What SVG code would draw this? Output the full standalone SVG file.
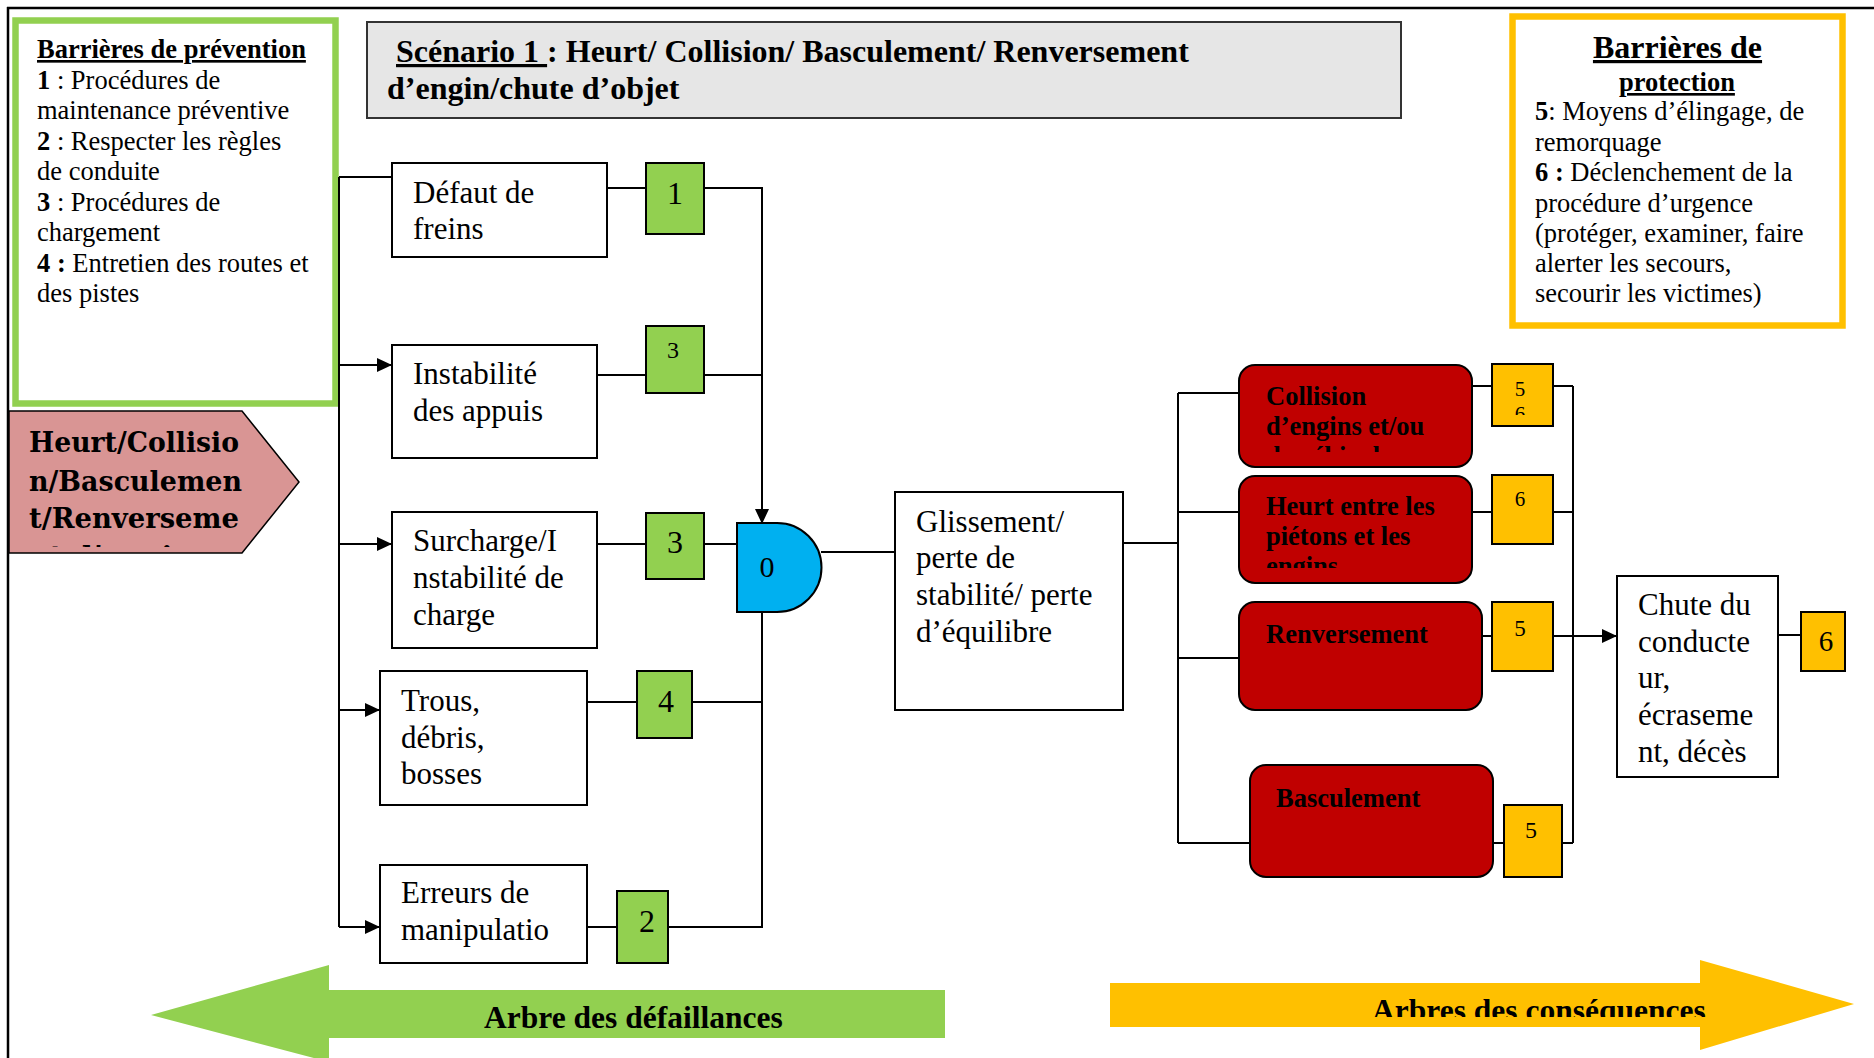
<svg xmlns="http://www.w3.org/2000/svg" width="1874" height="1058" viewBox="0 0 1874 1058">
  <style>
    .t { font-family: "Liberation Serif", "Times New Roman", serif; fill: #000; }
    .b { font-weight: bold; }
    .u { text-decoration: underline; }
    .mid { text-anchor: middle; }
    .box { fill: #fff; stroke: #000; stroke-width: 2; }
    .gnum { fill: #92D050; stroke: #000; stroke-width: 2; }
    .ynum { fill: #FFC000; stroke: #000; stroke-width: 2; }
    .red { fill: #C00000; stroke: #000; stroke-width: 2; }
    .wire { fill: none; stroke: #000; stroke-width: 2; }
    .frame { fill: none; stroke: #000; stroke-width: 2.5; }
    .lbl { font-size: 31px; }
    .rlbl { font-size: 26.5px; font-weight: bold; }
    .leg { font-size: 26.5px; }
  </style>
  <defs>
    <marker id="arr" viewBox="0 0 15 14" refX="15" refY="7" markerWidth="15" markerHeight="14" markerUnits="userSpaceOnUse" orient="auto">
      <path d="M0,0 L15,7 L0,14 z" fill="#000"/>
    </marker>
    <clipPath id="clipEvent"><rect x="10" y="410" width="290" height="137"/></clipPath>
    <clipPath id="clipCollision"><rect x="1239" y="365" width="233" height="87"/></clipPath>
    <clipPath id="clipHeurt"><rect x="1239" y="476" width="233" height="92"/></clipPath>
    <clipPath id="clipY56"><rect x="1492" y="364" width="61" height="51"/></clipPath>
    <clipPath id="clipCons"><rect x="1100" y="960" width="760" height="57"/></clipPath>
  </defs>

  <!-- page frame -->
  <path class="frame" d="M7,8 H1874 M8,7 V1058"/>

  <!-- prevention barriers legend -->
  <g id="prevention">
    <rect x="15.5" y="20.5" width="320" height="383" fill="#fff" stroke="#92D050" stroke-width="6.5"/>
    <text class="t leg b u" x="37" y="58">Barrières de prévention</text>
    <text class="t leg" x="37" y="88.5"><tspan class="b">1</tspan> : Procédures de</text>
    <text class="t leg" x="37" y="119">maintenance préventive</text>
    <text class="t leg" x="37" y="149.5"><tspan class="b">2</tspan> : Respecter les règles</text>
    <text class="t leg" x="37" y="180">de conduite</text>
    <text class="t leg" x="37" y="210.5"><tspan class="b">3</tspan> : Procédures de</text>
    <text class="t leg" x="37" y="241">chargement</text>
    <text class="t leg" x="37" y="271.5"><tspan class="b">4 :</tspan> Entretien des routes et</text>
    <text class="t leg" x="37" y="302">des pistes</text>
  </g>

  <!-- scenario title -->
  <g id="title">
    <rect x="367" y="22" width="1034" height="96" fill="#E6E6E6" stroke="#333" stroke-width="2"/>
    <text class="t b" font-size="32" x="396" y="62"><tspan class="u">Scénario 1 </tspan>: Heurt/ Collision/ Basculement/ Renversement</text>
    <text class="t b" font-size="32" x="387" y="99">d’engin/chute d’objet</text>
  </g>

  <!-- protection barriers legend -->
  <g id="protection">
    <rect x="1512.5" y="16.5" width="330" height="309" fill="#fff" stroke="#FFC000" stroke-width="6.5"/>
    <text class="t b u mid" font-size="32" x="1677.5" y="58">Barrières de</text>
    <text class="t b u mid" font-size="26.5" x="1677" y="91">protection</text>
    <text class="t leg" x="1535" y="120"><tspan class="b">5</tspan>: Moyens d’élingage, de</text>
    <text class="t leg" x="1535" y="150.5">remorquage</text>
    <text class="t leg" x="1535" y="181"><tspan class="b">6 :</tspan> Déclenchement de la</text>
    <text class="t leg" x="1535" y="211.5">procédure d’urgence</text>
    <text class="t leg" x="1535" y="242">(protéger, examiner, faire</text>
    <text class="t leg" x="1535" y="272">alerter les secours,</text>
    <text class="t leg" x="1535" y="302">secourir les victimes)</text>
  </g>

  <!-- top event pentagon -->
  <g id="event">
    <path d="M9,411 H242 L299,482 L242,553 H9 Z" fill="#D99594" stroke="#000" stroke-width="1.5"/>
    <g clip-path="url(#clipEvent)" font-family="'DejaVu Serif', serif" font-weight="bold" font-size="28.5" fill="#000">
      <text x="29" y="452" textLength="210" lengthAdjust="spacingAndGlyphs">Heurt/Collisio</text>
      <text x="29" y="491" textLength="213" lengthAdjust="spacingAndGlyphs">n/Basculemen</text>
      <text x="29" y="528" textLength="210" lengthAdjust="spacingAndGlyphs">t/Renverseme</text>
      <text x="29" y="566">nt d’engin</text>
    </g>
  </g>

  <!-- connectors -->
  <g id="connectors" class="wire">
    <path d="M339,177 V927"/>
    <path d="M339,177 H392"/>
    <path d="M339,365 H392" marker-end="url(#arr)"/>
    <path d="M339,544 H392" marker-end="url(#arr)"/>
    <path d="M339,710 H380" marker-end="url(#arr)"/>
    <path d="M339,927 H380" marker-end="url(#arr)"/>
    <path d="M607,188 H646"/>
    <path d="M704,188 H762 V524" marker-end="url(#arr)"/>
    <path d="M597,375 H646 M704,375 H762"/>
    <path d="M597,544 H646 M704,544 H737"/>
    <path d="M587,702 H637 M692,702 H762"/>
    <path d="M587,927 H617 M668,927 H762 V612"/>
    <path d="M821,552 H895"/>
    <path d="M1123,543 H1178"/>
    <path d="M1178,393 V843"/>
    <path d="M1178,393 H1239 M1178,512 H1239 M1178,658 H1239 M1178,843 H1250"/>
    <path d="M1472,386 H1492 M1553,386 H1573"/>
    <path d="M1472,512 H1492 M1553,512 H1573"/>
    <path d="M1482,636 H1492 M1553,636 H1573"/>
    <path d="M1493,843 H1504 M1562,843 H1573"/>
    <path d="M1573,386 V843"/>
    <path d="M1573,636 H1617" marker-end="url(#arr)"/>
    <path d="M1778,635 H1801"/>
  </g>

  <!-- failure causes -->
  <g id="defaut-freins">
    <rect class="box" x="392" y="163" width="215" height="94"/>
    <text class="t lbl" x="413" y="203">Défaut de</text>
    <text class="t lbl" x="413" y="239">freins</text>
  </g>
  <g id="instabilite-appuis">
    <rect class="box" x="392" y="345" width="205" height="113"/>
    <text class="t lbl" x="413" y="384">Instabilité</text>
    <text class="t lbl" x="413" y="421">des appuis</text>
  </g>
  <g id="surcharge">
    <rect class="box" x="392" y="512" width="205" height="136"/>
    <text class="t lbl" x="413" y="551">Surcharge/I</text>
    <text class="t lbl" x="413" y="588">nstabilité de</text>
    <text class="t lbl" x="413" y="625">charge</text>
  </g>
  <g id="trous">
    <rect class="box" x="380" y="671" width="207" height="134"/>
    <text class="t lbl" x="401" y="711">Trous,</text>
    <text class="t lbl" x="401" y="748">débris,</text>
    <text class="t lbl" x="401" y="784">bosses</text>
  </g>
  <g id="erreurs">
    <rect class="box" x="380" y="865" width="207" height="98"/>
    <text class="t lbl" x="401" y="903">Erreurs de</text>
    <text class="t lbl" x="401" y="940">manipulatio</text>
  </g>

  <!-- prevention barrier tags -->
  <g id="barrier-1">
    <rect class="gnum" x="646" y="163" width="58" height="71"/>
    <text class="t mid" font-size="32" x="675" y="204">1</text>
  </g>
  <g id="barrier-3a">
    <rect class="gnum" x="646" y="326" width="58" height="67"/>
    <text class="t mid" font-size="24" x="673" y="358">3</text>
  </g>
  <g id="barrier-3b">
    <rect class="gnum" x="646" y="513" width="58" height="66"/>
    <text class="t mid" font-size="32" x="675" y="553">3</text>
  </g>
  <g id="barrier-4">
    <rect class="gnum" x="637" y="671" width="55" height="67"/>
    <text class="t mid" font-size="32" x="666" y="712">4</text>
  </g>
  <g id="barrier-2">
    <rect class="gnum" x="617" y="891" width="51" height="72"/>
    <text class="t mid" font-size="32" x="647" y="932">2</text>
  </g>

  <!-- logic gate -->
  <g id="gate">
    <path d="M737,523 H777 A44.5,44.5 0 0 1 777,612 H737 Z" fill="#00B0F0" stroke="#000" stroke-width="2"/>
    <text class="t mid" font-size="30" x="767" y="577">0</text>
  </g>

  <!-- central event -->
  <g id="glissement">
    <rect class="box" x="895" y="492" width="228" height="218"/>
    <text class="t lbl" x="916" y="532">Glissement/</text>
    <text class="t lbl" x="916" y="568">perte de</text>
    <text class="t lbl" x="916" y="605">stabilité/ perte</text>
    <text class="t lbl" x="916" y="642">d’équilibre</text>
  </g>

  <!-- consequences -->
  <g id="collision">
    <rect class="red" x="1239" y="365" width="233" height="102" rx="16"/>
    <g clip-path="url(#clipCollision)">
      <text class="t rlbl" x="1266" y="405">Collision</text>
      <text class="t rlbl" x="1266" y="435">d’engins et/ou</text>
      <text class="t rlbl" x="1266" y="465">de véhicules</text>
    </g>
  </g>
  <g id="heurt-pietons">
    <rect class="red" x="1239" y="476" width="233" height="107" rx="16"/>
    <g clip-path="url(#clipHeurt)">
      <text class="t rlbl" x="1266" y="515">Heurt entre les</text>
      <text class="t rlbl" x="1266" y="545">piétons et les</text>
      <text class="t rlbl" x="1266" y="575">engins</text>
    </g>
  </g>
  <g id="renversement">
    <rect class="red" x="1239" y="602" width="243" height="108" rx="16"/>
    <text class="t rlbl" x="1266" y="643">Renversement</text>
  </g>
  <g id="basculement">
    <rect class="red" x="1250" y="765" width="243" height="112" rx="16"/>
    <text class="t rlbl" x="1276" y="807">Basculement</text>
  </g>

  <!-- protection barrier tags -->
  <g id="protect-56">
    <rect class="ynum" x="1492" y="364" width="61" height="62"/>
    <g clip-path="url(#clipY56)">
      <text class="t mid" font-size="21" x="1520" y="396">5</text>
      <text class="t mid" font-size="21" x="1520" y="421">6</text>
    </g>
  </g>
  <g id="protect-6a">
    <rect class="ynum" x="1492" y="475" width="61" height="69"/>
    <text class="t mid" font-size="21" x="1520" y="506">6</text>
  </g>
  <g id="protect-5a">
    <rect class="ynum" x="1492" y="602" width="61" height="69"/>
    <text class="t mid" font-size="23" x="1520" y="636">5</text>
  </g>
  <g id="protect-5b">
    <rect class="ynum" x="1504" y="805" width="58" height="72"/>
    <text class="t mid" font-size="24" x="1531" y="838">5</text>
  </g>

  <!-- final outcome -->
  <g id="chute">
    <rect class="box" x="1617" y="576" width="161" height="201"/>
    <text class="t lbl" x="1638" y="615">Chute du</text>
    <text class="t lbl" x="1638" y="652">conducte</text>
    <text class="t lbl" x="1638" y="688">ur,</text>
    <text class="t lbl" x="1638" y="725">écraseme</text>
    <text class="t lbl" x="1638" y="762">nt, décès</text>
  </g>
  <g id="protect-6b">
    <rect class="ynum" x="1801" y="612" width="44" height="59"/>
    <text class="t mid" font-size="29" x="1826" y="651">6</text>
  </g>

  <!-- direction banners -->
  <g id="arbre-defaillances">
    <path d="M945,990 H329 V965 L151,1015 L329,1062 V1038 H945 Z" fill="#92D050"/>
    <text class="t b" font-size="31.5" x="484" y="1028">Arbre des défaillances</text>
  </g>
  <g id="arbre-consequences">
    <path d="M1110,983 H1700 V960 L1854,1004 L1700,1050 V1027 H1110 Z" fill="#FFC000"/>
    <text class="t b" font-size="31.5" x="1372" y="1021" clip-path="url(#clipCons)">Arbres des conséquences</text>
  </g>
</svg>
